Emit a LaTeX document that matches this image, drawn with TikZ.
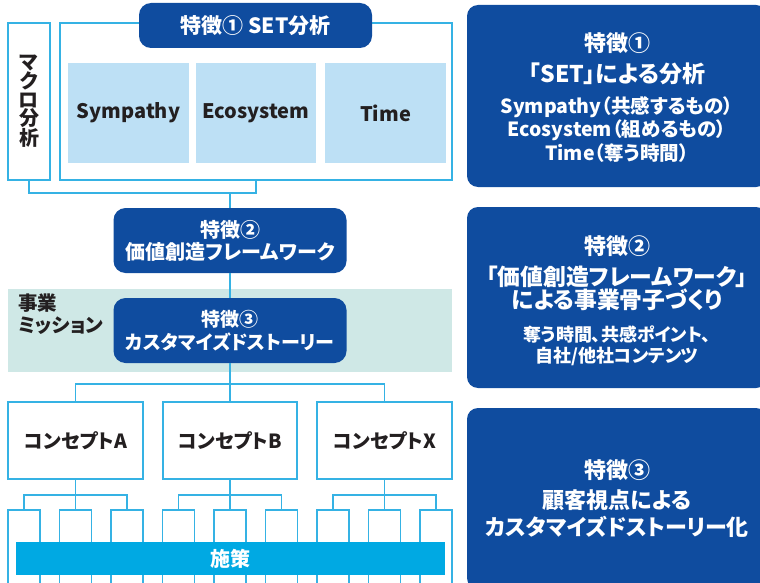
\documentclass[tikz,border=0pt]{standalone}
\usepackage{fontspec}
\setmainfont{Noto Sans CJK JP}[RawFeature=+palt]
\usetikzlibrary{calc}
\definecolor{dblue}{HTML}{0F4C9F}
\definecolor{lline}{HTML}{35B2E4}
\definecolor{lbox}{HTML}{BDE0F5}
\definecolor{teal}{HTML}{CFE8E6}
\definecolor{barc}{HTML}{00A9E3}
\definecolor{dtext}{HTML}{231F20}
\newcommand{\fsz}[2]{\fontsize{#1}{#2}\selectfont}
\begin{document}
\begin{tikzpicture}[x=1pt,y=-1pt,
  conn/.style={draw=lline, line width=1.5pt},
  wbox/.style={draw=lline, line width=1.5pt, fill=white, inner sep=0pt},
  lbbox/.style={fill=lbox, inner sep=0pt, minimum height=100pt, text=dtext, font=\bfseries\fsz{20}{24}},
  pill/.style={fill=dblue, rounded corners=12pt, inner sep=0pt, text=white, align=center},
  rbox/.style={fill=dblue, rounded corners=11pt, inner sep=0pt, minimum width=300pt},
  wt/.style={text=white, inner sep=0pt, font=\bfseries\fsz{22}{24}},
  wts/.style={text=white, inner sep=0pt, font=\bfseries\fsz{19.5}{22}},
  dt/.style={text=dtext, inner sep=0pt}]
\useasboundingbox (0,0) rectangle (760,583);
\clip (0,0) rectangle (760,583);

% ---- top section
\node[wbox, minimum width=42pt, minimum height=157pt] (macro) at (29,101.5) {};
\node[dt, align=center, font=\bfseries\fsz{20}{18.7}] (macrot) at (macro.center) {マ\\ク\\ロ\\分\\析};
\node[wbox, minimum width=392pt, minimum height=157pt] (setbox) at (256,101.5) {};
\node[pill, minimum width=233pt, minimum height=45pt, font=\bfseries\fsz{21}{24}] (f1) at (255.5,25.5) {特徴① SET分析};
\node[lbbox, minimum width=121pt] (sym) at (128.5,113) {Sympathy};
\node[lbbox, minimum width=120pt] (eco) at (256,113) {Ecosystem};
\node[lbbox, minimum width=121pt] (tim) at (385.5,113) {Time};

\coordinate (brk) at (230,193);
\draw[conn] (macro.south) |- (brk) -| (setbox.south);

% ---- band
\fill[teal] (8,289) rectangle (452,372);
\node[dt, align=left, anchor=north west, font=\bfseries\fsz{19.5}{22}] (mission) at (18,294) {事業\\ミッション};

\node[pill, minimum width=233pt, minimum height=65pt, font=\bfseries\fsz{20}{22}] (f2) at (230,240.5) {特徴②\\価値創造フレームワーク};
\node[pill, minimum width=233pt, minimum height=65pt, font=\bfseries\fsz{19}{23}] (f3) at (230,330.5) {特徴③\\カスタマイズドストーリー};
\draw[conn] (brk) -- (f2.north);
\draw[conn] (f2.south) -- (f3.north);

% ---- concepts
\coordinate (hub) at (230,384);
\node[wbox, minimum width=135pt, minimum height=77pt, text=dtext, font=\bfseries\fsz{19.5}{22}] (cA) at (75.5,440.5) {コンセプトA};
\node[wbox, minimum width=134pt, minimum height=77pt, text=dtext, font=\bfseries\fsz{19.5}{22}] (cB) at (230,440.5) {コンセプトB};
\node[wbox, minimum width=135pt, minimum height=77pt, text=dtext, font=\bfseries\fsz{19.5}{22}] (cX) at (384.5,440.5) {コンセプトX};
\draw[conn] (f3.south) -- (hub);
\draw[conn] (cA.north) |- (hub) -| (cX.north);
\draw[conn] (hub) -- (cB.north);

\foreach \g/\c in {A/75.5, B/230, X/384.5} {
  \pgfmathsetmacro{\xl}{\c-51.5}
  \pgfmathsetmacro{\xr}{\c+51.5}
  \coordinate (h\g) at (\c,495);
  \node[wbox, minimum width=32pt, minimum height=90pt] (s\g1) at (\xl,555) {};
  \node[wbox, minimum width=32pt, minimum height=90pt] (s\g2) at (\c,555) {};
  \node[wbox, minimum width=32pt, minimum height=90pt] (s\g3) at (\xr,555) {};
  \draw[conn] (c\g.south) -- (h\g);
  \draw[conn] (s\g1.north) |- (h\g) -| (s\g3.north);
  \draw[conn] (h\g) -- (s\g2.north);
}
\node[fill=barc, minimum width=429pt, minimum height=33pt, inner sep=0pt, text=white, font=\bfseries\fsz{20}{24}] (bar) at (230.5,558.5) {施策};

% ---- right boxes
\node[rbox, minimum height=182pt] (r1) at (617,96) {};
\node[wt] (r1a) at (617,43) {特徴①};
\node[wt, font=\bfseries\fsz{23}{24}] (r1b) at (617,74) {「SET」による分析};
\node[wts] (r1c) at (617,107) {Sympathy（共感するもの）};
\node[wts] (r1d) at (617,130) {Ecosystem（組めるもの）};
\node[wts] (r1e) at (617,153) {Time（奪う時間）};

\node[rbox, minimum height=181pt] (r2) at (617,297.5) {};
\node[wt] (r2a) at (617,246) {特徴②};
\node[wt, font=\bfseries\fsz{22.8}{24}] (r2b) at (617,277) {「価値創造フレームワーク」};
\node[wt, font=\bfseries\fsz{22.8}{24}] (r2c) at (617,300) {による事業骨子づくり};
\node[wts, font=\bfseries\fsz{18}{22}] (r2d) at (617,334) {奪う時間、共感ポイント、};
\node[wts, font=\bfseries\fsz{18}{22}] (r2e) at (617,356) {自社/他社コンテンツ};

\node[rbox, minimum height=181pt] (r3) at (617,498.5) {};
\node[wt] (r3a) at (617,470) {特徴③};
\node[wt] (r3b) at (617,500) {顧客視点による};
\node[wt] (r3c) at (617,527) {カスタマイズドストーリー化};
\end{tikzpicture}
\end{document}
